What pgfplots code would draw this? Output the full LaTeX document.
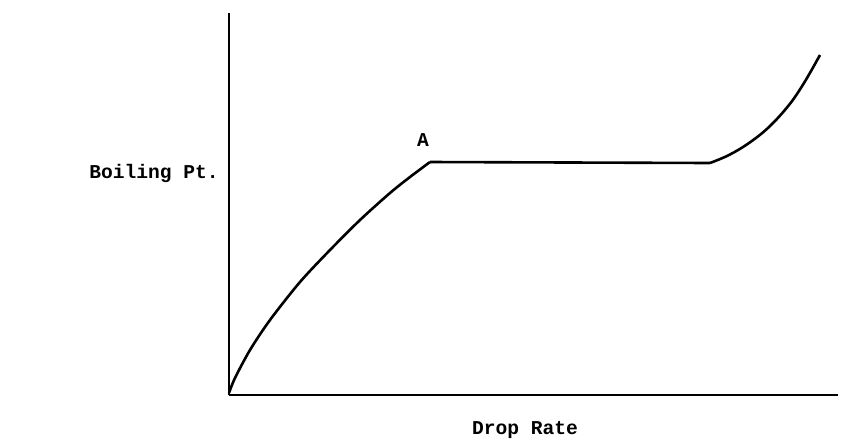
\documentclass[border=0pt]{standalone}
\usepackage{fontspec}
\setmonofont{Liberation Mono}
\usepackage{pgfplots}
\pgfplotsset{compat=1.18}
\begin{document}
\begin{tikzpicture}
\useasboundingbox (-114.5pt,-23pt) rectangle (311pt,197.5pt);
\begin{axis}[
  scale only axis, width=304.5pt, height=191pt,
  xmin=0, xmax=609, ymin=0, ymax=382,
  axis lines=left, axis line style={-, line width=1.4pt},
  xtick=\empty, ytick=\empty,
  clip=false,
  font=\fontsize{9.8}{11}\ttfamily\bfseries,
  xlabel={Drop Rate},
  xlabel style={at={(axis cs:296,-35)}, anchor=center},
  ylabel={Boiling Pt.},
  ylabel style={rotate=-90, at={(axis cs:-75,222)}, anchor=center},
]
\addplot[black, line width=1.3pt, smooth, tension=0.5] coordinates {
(0,2) (6,17) (21,45) (41,75) (71,113) (101,145) (131,175) (161,202) (181,218) (201,233)};
\addplot[black, line width=1.3pt] coordinates {(201,233) (481,232)};
\addplot[black, line width=1.3pt, smooth, tension=0.6] coordinates {
(481,232) (500,240) (520,252) (540,268) (560,290) (575,312) (591,340)};
\node[font=\fontsize{9.8}{11}\ttfamily\bfseries] at (axis cs:194,255) {A};
\end{axis}
\end{tikzpicture}
\end{document}
